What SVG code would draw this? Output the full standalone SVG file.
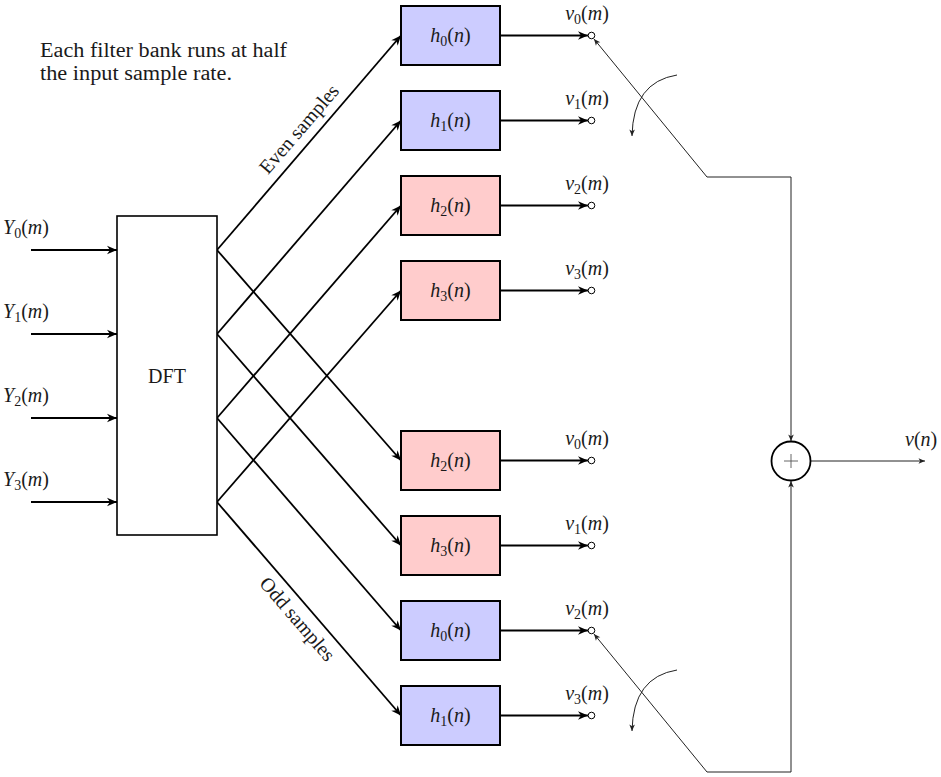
<svg xmlns="http://www.w3.org/2000/svg" width="941" height="777" viewBox="0 0 941 777">
  <style>
    text { font-family: "Liberation Serif", "DejaVu Serif", serif; font-size: 20px; fill: #1a1a1a; }
    .it { font-style: italic; }
    .sub { font-size: 14px; }
    .mid { text-anchor: middle; }
    .box { stroke: #000; stroke-width: 2; }
    .blue { fill: #ccccff; }
    .red { fill: #ffcccc; }
    .thick { fill: none; stroke: #000; stroke-width: 1.8; }
    .thin { fill: none; stroke: #222; stroke-width: 1; }
    .port { fill: #fff; stroke: #000; stroke-width: 1; }
  </style>
  <defs>
    <marker id="arrow" markerUnits="userSpaceOnUse" markerWidth="12" markerHeight="10" viewBox="-11 -5 12 10" refX="0" refY="0" orient="auto-start-reverse">
      <path d="M0,0 L-10,-4.2 L-7,0 L-10,4.2 Z" fill="#000"/>
    </marker>
    <marker id="arrowThin" markerUnits="userSpaceOnUse" markerWidth="10" markerHeight="8" viewBox="-8 -4 10 8" refX="0" refY="0" orient="auto-start-reverse">
      <path d="M0,0 L-6.5,-2.8 L-4.8,0 L-6.5,2.8 Z" fill="#222"/>
    </marker>
  </defs>

  <!-- caption -->
  <g id="caption">
    <text x="40" y="57" textLength="247" lengthAdjust="spacingAndGlyphs">Each filter bank runs at half</text>
    <text x="40" y="80" textLength="192" lengthAdjust="spacingAndGlyphs">the input sample rate.</text>
  </g>

  <!-- connectors -->
  <g id="connectors">
    <!-- inputs into DFT -->
    <path class="thick" d="M31,250 H117" marker-end="url(#arrow)"/>
    <path class="thick" d="M31,334 H117" marker-end="url(#arrow)"/>
    <path class="thick" d="M31,418 H117" marker-end="url(#arrow)"/>
    <path class="thick" d="M31,502 H117" marker-end="url(#arrow)"/>
    <!-- DFT to upper (even) bank -->
    <path class="thick" d="M217,250 L401,35.5" marker-end="url(#arrow)"/>
    <path class="thick" d="M217,334 L401,120.5" marker-end="url(#arrow)"/>
    <path class="thick" d="M217,418 L401,205.5" marker-end="url(#arrow)"/>
    <path class="thick" d="M217,502 L401,290.5" marker-end="url(#arrow)"/>
    <!-- DFT to lower (odd) bank -->
    <path class="thick" d="M217,250 L401,460.5" marker-end="url(#arrow)"/>
    <path class="thick" d="M217,334 L401,545.5" marker-end="url(#arrow)"/>
    <path class="thick" d="M217,418 L401,630.5" marker-end="url(#arrow)"/>
    <path class="thick" d="M217,502 L401,715.5" marker-end="url(#arrow)"/>
    <!-- filter outputs -->
    <path class="thick" d="M500,35.5 H588" marker-end="url(#arrow)"/>
    <path class="thick" d="M500,120.5 H588" marker-end="url(#arrow)"/>
    <path class="thick" d="M500,205.5 H588" marker-end="url(#arrow)"/>
    <path class="thick" d="M500,290.5 H588" marker-end="url(#arrow)"/>
    <path class="thick" d="M500,460.5 H588" marker-end="url(#arrow)"/>
    <path class="thick" d="M500,545.5 H588" marker-end="url(#arrow)"/>
    <path class="thick" d="M500,630.5 H588" marker-end="url(#arrow)"/>
    <path class="thick" d="M500,715.5 H588" marker-end="url(#arrow)"/>
    <!-- commutator arms -->
    <path class="thin" d="M594,39 L707,177 H791 V441" marker-start="url(#arrowThin)" marker-end="url(#arrowThin)"/>
    <path class="thin" d="M594,634 L707,772 H791 V481" marker-start="url(#arrowThin)" marker-end="url(#arrowThin)"/>
    <!-- rotation indicators -->
    <path class="thin" d="M677,75 Q633,82 632,136" marker-end="url(#arrowThin)"/>
    <path class="thin" d="M677,670 Q633,677 632,731" marker-end="url(#arrowThin)"/>
    <!-- summed output -->
    <path class="thin" d="M811,461 H925" marker-end="url(#arrowThin)"/>
    <!-- path labels -->
    <text transform="translate(311.7,139.9) rotate(-49.3)" class="mid" y="-10">Even samples</text>
    <text transform="translate(309.1,609) rotate(49.3)" class="mid" y="22">Odd samples</text>
  </g>

  <!-- input labels -->
  <g id="inputs">
    <text x="3" y="234"><tspan class="it">Y</tspan><tspan class="sub" dy="4">0</tspan><tspan dy="-4">(</tspan><tspan class="it">m</tspan>)</text>
    <text x="3" y="318"><tspan class="it">Y</tspan><tspan class="sub" dy="4">1</tspan><tspan dy="-4">(</tspan><tspan class="it">m</tspan>)</text>
    <text x="3" y="402"><tspan class="it">Y</tspan><tspan class="sub" dy="4">2</tspan><tspan dy="-4">(</tspan><tspan class="it">m</tspan>)</text>
    <text x="3" y="486"><tspan class="it">Y</tspan><tspan class="sub" dy="4">3</tspan><tspan dy="-4">(</tspan><tspan class="it">m</tspan>)</text>
  </g>

  <!-- DFT block -->
  <g id="dft">
    <rect x="117" y="216" width="100" height="319" fill="#fff" stroke="#000" stroke-width="1.6"/>
    <text x="167" y="383" class="mid">DFT</text>
  </g>

  <!-- upper filter bank -->
  <g id="even-h0">
    <rect class="box blue" x="401" y="6" width="99" height="59"/>
    <text x="450.5" y="42" class="mid"><tspan class="it">h</tspan><tspan class="sub" dy="4">0</tspan><tspan dy="-4">(</tspan><tspan class="it">n</tspan>)</text>
  </g>
  <g id="even-h1">
    <rect class="box blue" x="401" y="91" width="99" height="59"/>
    <text x="450.5" y="127" class="mid"><tspan class="it">h</tspan><tspan class="sub" dy="4">1</tspan><tspan dy="-4">(</tspan><tspan class="it">n</tspan>)</text>
  </g>
  <g id="even-h2">
    <rect class="box red" x="401" y="176" width="99" height="59"/>
    <text x="450.5" y="212" class="mid"><tspan class="it">h</tspan><tspan class="sub" dy="4">2</tspan><tspan dy="-4">(</tspan><tspan class="it">n</tspan>)</text>
  </g>
  <g id="even-h3">
    <rect class="box red" x="401" y="261" width="99" height="59"/>
    <text x="450.5" y="297" class="mid"><tspan class="it">h</tspan><tspan class="sub" dy="4">3</tspan><tspan dy="-4">(</tspan><tspan class="it">n</tspan>)</text>
  </g>

  <!-- lower filter bank -->
  <g id="odd-h2">
    <rect class="box red" x="401" y="431" width="99" height="59"/>
    <text x="450.5" y="467" class="mid"><tspan class="it">h</tspan><tspan class="sub" dy="4">2</tspan><tspan dy="-4">(</tspan><tspan class="it">n</tspan>)</text>
  </g>
  <g id="odd-h3">
    <rect class="box red" x="401" y="516" width="99" height="59"/>
    <text x="450.5" y="552" class="mid"><tspan class="it">h</tspan><tspan class="sub" dy="4">3</tspan><tspan dy="-4">(</tspan><tspan class="it">n</tspan>)</text>
  </g>
  <g id="odd-h0">
    <rect class="box blue" x="401" y="601" width="99" height="59"/>
    <text x="450.5" y="637" class="mid"><tspan class="it">h</tspan><tspan class="sub" dy="4">0</tspan><tspan dy="-4">(</tspan><tspan class="it">n</tspan>)</text>
  </g>
  <g id="odd-h1">
    <rect class="box blue" x="401" y="686" width="99" height="59"/>
    <text x="450.5" y="722" class="mid"><tspan class="it">h</tspan><tspan class="sub" dy="4">1</tspan><tspan dy="-4">(</tspan><tspan class="it">n</tspan>)</text>
  </g>

  <!-- commutator contacts -->
  <g id="contacts-even">
    <circle class="port" cx="591.5" cy="35.5" r="3.3"/>
    <circle class="port" cx="591.5" cy="120.5" r="3.3"/>
    <circle class="port" cx="591.5" cy="205.5" r="3.3"/>
    <circle class="port" cx="591.5" cy="290.5" r="3.3"/>
    <text x="587" y="20" class="mid"><tspan class="it">v</tspan><tspan class="sub" dy="4">0</tspan><tspan dy="-4">(</tspan><tspan class="it">m</tspan>)</text>
    <text x="587" y="105" class="mid"><tspan class="it">v</tspan><tspan class="sub" dy="4">1</tspan><tspan dy="-4">(</tspan><tspan class="it">m</tspan>)</text>
    <text x="587" y="190" class="mid"><tspan class="it">v</tspan><tspan class="sub" dy="4">2</tspan><tspan dy="-4">(</tspan><tspan class="it">m</tspan>)</text>
    <text x="587" y="275" class="mid"><tspan class="it">v</tspan><tspan class="sub" dy="4">3</tspan><tspan dy="-4">(</tspan><tspan class="it">m</tspan>)</text>
  </g>
  <g id="contacts-odd">
    <circle class="port" cx="591.5" cy="460.5" r="3.3"/>
    <circle class="port" cx="591.5" cy="545.5" r="3.3"/>
    <circle class="port" cx="591.5" cy="630.5" r="3.3"/>
    <circle class="port" cx="591.5" cy="715.5" r="3.3"/>
    <text x="587" y="445" class="mid"><tspan class="it">v</tspan><tspan class="sub" dy="4">0</tspan><tspan dy="-4">(</tspan><tspan class="it">m</tspan>)</text>
    <text x="587" y="530" class="mid"><tspan class="it">v</tspan><tspan class="sub" dy="4">1</tspan><tspan dy="-4">(</tspan><tspan class="it">m</tspan>)</text>
    <text x="587" y="615" class="mid"><tspan class="it">v</tspan><tspan class="sub" dy="4">2</tspan><tspan dy="-4">(</tspan><tspan class="it">m</tspan>)</text>
    <text x="587" y="700" class="mid"><tspan class="it">v</tspan><tspan class="sub" dy="4">3</tspan><tspan dy="-4">(</tspan><tspan class="it">m</tspan>)</text>
  </g>

  <!-- summing junction -->
  <g id="sum">
    <circle cx="791" cy="461" r="19.5" fill="#fff" stroke="#000" stroke-width="1.8"/>
    <path d="M784,461 H798 M791,454 V468" stroke="#555" stroke-width="0.9" fill="none"/>
  </g>

  <!-- output label -->
  <g id="output">
    <text x="905" y="446"><tspan class="it">v</tspan>(<tspan class="it">n</tspan>)</text>
  </g>
</svg>
